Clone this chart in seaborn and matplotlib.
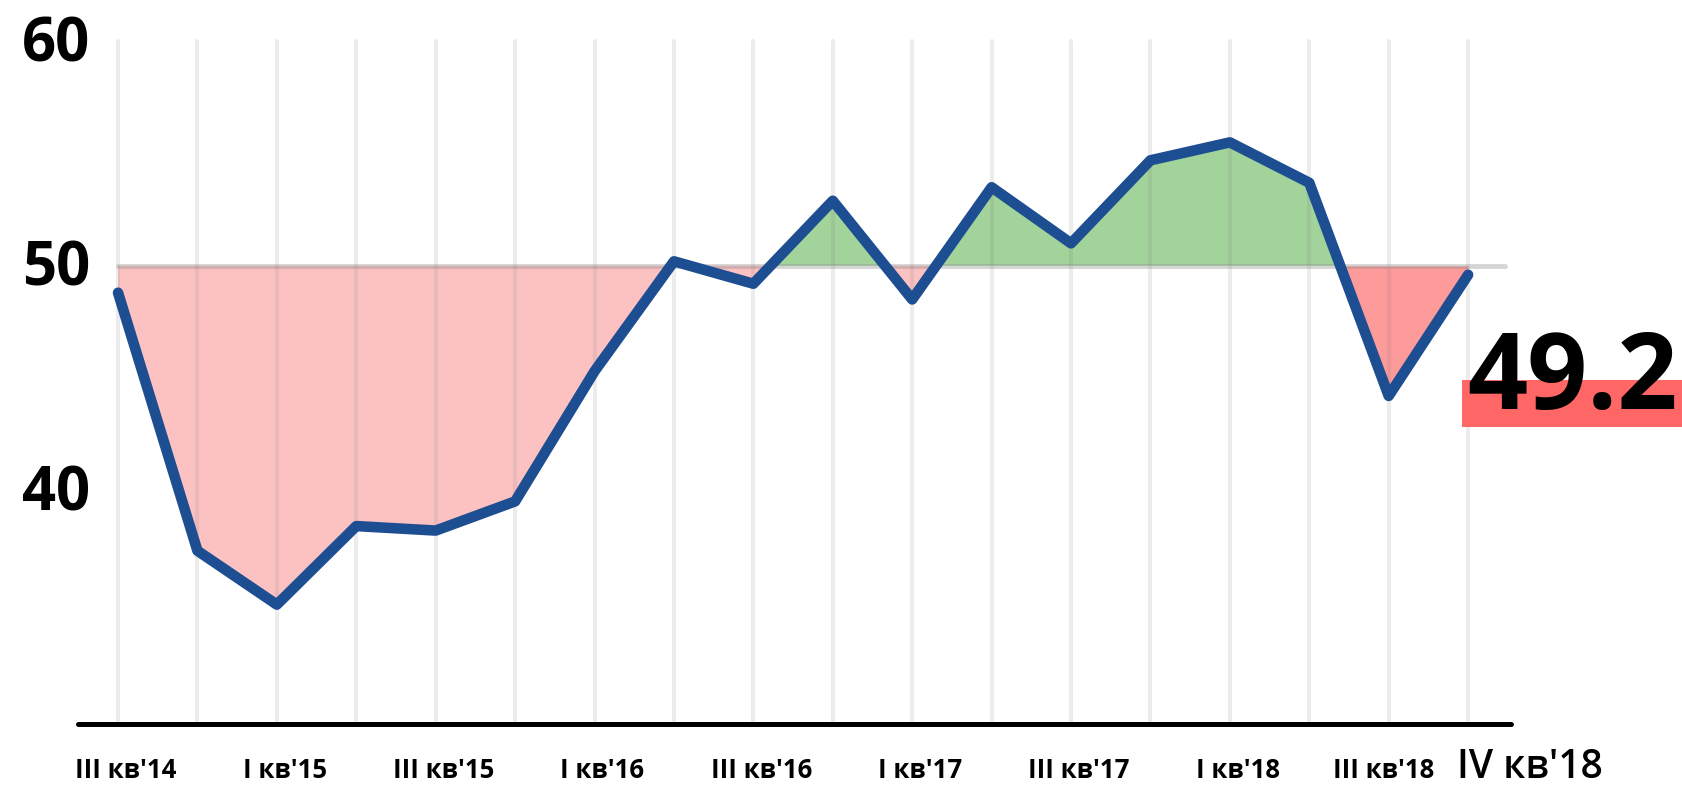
import numpy as np
import pandas as pd
import matplotlib.pyplot as plt
from matplotlib.patches import Rectangle
from matplotlib.transforms import ScaledTranslation
import seaborn as sns

# quarterly index values
quarters = ["III кв'14", "IV кв'14", "I кв'15", "II кв'15", "III кв'15", "IV кв'15",
            "I кв'16", "II кв'16", "III кв'16", "IV кв'16", "I кв'17", "II кв'17",
            "III кв'17", "IV кв'17", "I кв'18", "II кв'18", "III кв'18", "IV кв'18"]
values = [48.8, 37.3, 34.9, 38.4, 38.2, 39.5, 45.3, 50.2, 49.2, 52.9, 48.5, 53.5,
          51.0, 54.7, 55.5, 53.7, 44.2, 49.6]
last_label = "49.2"
threshold = 50
yticks = [40, 50, 60]

sns.set_style("white", {"text.color": "black", "ytick.color": "black", "xtick.color": "black"})
plt.rcParams["font.family"] = ["Open Sans", "DejaVu Sans"]

df = pd.DataFrame({"idx": np.arange(len(quarters)), "quarter": quarters, "value": values})
x = df["idx"].to_numpy()
y = df["value"].to_numpy()

fig = plt.figure(figsize=(16.82, 7.85), dpi=100)
ax = fig.add_axes([78 / 1682, 61 / 785, 1433 / 1682, 687.1 / 785])
ax.set_xlim(-0.504, 17.54)
ax.set_ylim(29.58, 60.2)

# areas between the line and 50
ax.fill_between(x[:16], y[:16], threshold, where=y[:16] < threshold, interpolate=True,
                color="#fcc2c2", lw=0, zorder=1)
ax.fill_between(x[15:], y[15:], threshold, where=y[15:] < threshold, interpolate=True,
                color="#fd9a9a", lw=0, zorder=1)
ax.fill_between(x, y, threshold, where=y > threshold, interpolate=True,
                color="#a1d39b", lw=0, zorder=1)

# vertical grid + 50 reference line
vl = ax.vlines(x, 29.58, 60, color="0.5", alpha=0.15, lw=2.9, zorder=2)
vl.set_capstyle("round")
hl = ax.hlines(threshold, 0, 17.47, color="0.55", alpha=0.36, lw=3.5, zorder=2)
hl.set_capstyle("round")

sns.lineplot(data=df, x="idx", y="value", ax=ax, color="#1d4e92", lw=7.6, zorder=3)
ln = ax.lines[-1]
ln.set_solid_capstyle("round")
ln.set_solid_joinstyle("round")

# axes styling
for s in ["top", "right", "left"]:
    ax.spines[s].set_visible(False)
ax.spines["bottom"].set_color("black")
ax.spines["bottom"].set_linewidth(3.6)
ax.spines["bottom"].set_capstyle("round")
ax.set_xlabel("")
ax.set_ylabel("")

ax.set_yticks(yticks)
ax.set_yticklabels([str(t) for t in yticks], fontsize=43, fontweight="bold", color="black")
ax.tick_params(axis="y", length=0, pad=-8.6)
for lab in ax.get_yticklabels():
    lab.set_transform(lab.get_transform() + ScaledTranslation(0, 3 / 100, fig.dpi_scale_trans))

ax.set_xticks(x[:-1:2])
ax.set_xticklabels(quarters[:-1:2], fontsize=18.5, fontweight="bold", color="black")
ax.tick_params(axis="x", length=0, pad=24)
xlabs = ax.get_xticklabels()
for i, lab in enumerate(xlabs):
    dx = -5 if i == len(xlabs) - 1 else 8
    lab.set_transform(lab.get_transform() + ScaledTranslation(dx / 100, 0, fig.dpi_scale_trans))

ax.annotate(quarters[-1], xy=(x[-1], 0), xycoords=("data", "axes fraction"),
            xytext=(-7.9, -38.9), textcoords="offset points", ha="left", va="baseline",
            fontsize=28, fontweight="semibold", color="black", annotation_clip=False)

# highlighted last value
ax.add_patch(Rectangle((x[-1] - 0.075, 42.81), 3, 2.09, color="#ff6666", lw=0,
                       clip_on=False, zorder=4))
ax.annotate(last_label, xy=(x[-1], y[-1]), xytext=(-0.7, -96.8), textcoords="offset points",
            ha="left", va="baseline", fontsize=76, fontweight="bold", color="black",
            zorder=5, annotation_clip=False)

fig.savefig("out.png", dpi=100)
